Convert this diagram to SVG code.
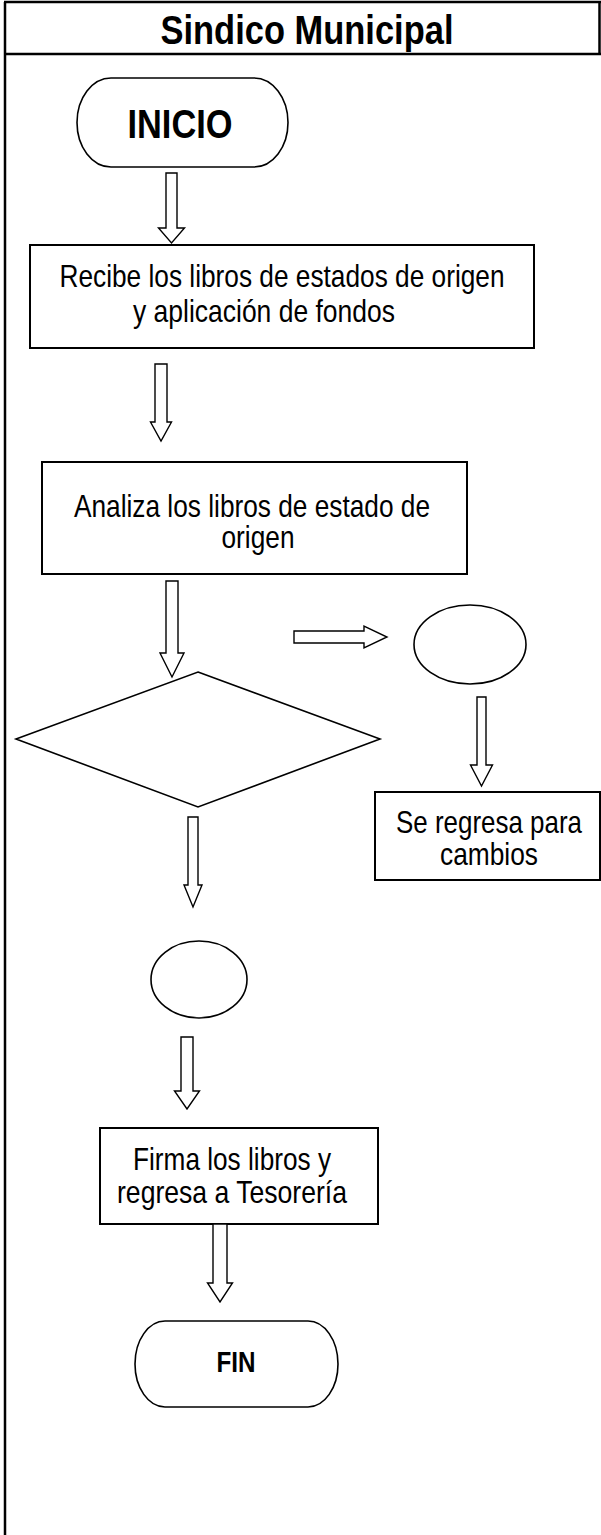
<svg xmlns="http://www.w3.org/2000/svg" width="601" height="1535" viewBox="0 0 601 1535">
<style>
.frame{fill:none;stroke:#000;stroke-width:2.5}
.box{fill:#fff;stroke:#000;stroke-width:2}
.shape{fill:#fff;stroke:#000;stroke-width:1.6}
.arrow{fill:#fff;stroke:#000;stroke-width:1.4;stroke-linejoin:miter}
text{font-family:"Liberation Sans Narrow","Liberation Sans",Arial,sans-serif;fill:#000;text-anchor:middle}
.t{font-size:32px}
.b{font-weight:bold}
</style>
<rect width="601" height="1535" fill="#fff"/>
<g id="frame">
<line class="frame" x1="5" y1="2" x2="5" y2="1535"/>
<line class="frame" x1="4" y1="2" x2="601" y2="2"/>
<line class="frame" x1="5" y1="54" x2="601" y2="54"/>
<line class="frame" x1="599.5" y1="2" x2="599.5" y2="54"/>
<text class="b" x="307" y="44" font-size="40" textLength="293" lengthAdjust="spacingAndGlyphs">Sindico Municipal</text>
</g>
<g id="inicio">
<rect class="shape" x="77" y="78" width="211" height="89" rx="34" ry="44.5"/>
<text class="b" x="180" y="138" font-size="40" textLength="105" lengthAdjust="spacingAndGlyphs">INICIO</text>
</g>
<g id="recibe">
<rect class="box" x="30" y="245" width="504" height="103"/>
<text class="t"><tspan x="282" y="287" textLength="445" lengthAdjust="spacingAndGlyphs">Recibe los libros de estados de origen</tspan><tspan x="264" y="322" textLength="262" lengthAdjust="spacingAndGlyphs">y aplicación de fondos</tspan></text>
</g>
<g id="analiza">
<rect class="box" x="42" y="462" width="425" height="112"/>
<text class="t"><tspan x="252" y="517" textLength="356" lengthAdjust="spacingAndGlyphs">Analiza los libros de estado de</tspan><tspan x="258" y="548" textLength="73" lengthAdjust="spacingAndGlyphs">origen</tspan></text>
</g>
<g id="decision">
<polygon class="shape" points="198,672 380,739 198,807 16,739"/>
</g>
<g id="conector1">
<ellipse class="shape" cx="470" cy="644.5" rx="56" ry="39.5"/>
</g>
<g id="regresa">
<rect class="box" x="375" y="792" width="225" height="88"/>
<text class="t"><tspan x="489" y="833" textLength="186" lengthAdjust="spacingAndGlyphs">Se regresa para</tspan><tspan x="489" y="865" textLength="98" lengthAdjust="spacingAndGlyphs">cambios</tspan></text>
</g>
<g id="conector2">
<ellipse class="shape" cx="199" cy="979.5" rx="48" ry="38.5"/>
</g>
<g id="firma">
<rect class="box" x="100" y="1128" width="278" height="96"/>
<text class="t"><tspan x="232" y="1170" textLength="198" lengthAdjust="spacingAndGlyphs">Firma los libros y</tspan><tspan x="232" y="1203" textLength="230" lengthAdjust="spacingAndGlyphs">regresa a Tesorería</tspan></text>
</g>
<g id="fin">
<rect class="shape" x="135" y="1321" width="203" height="86" rx="30" ry="43"/>
<text class="b" x="236" y="1372" font-size="29" textLength="39" lengthAdjust="spacingAndGlyphs">FIN</text>
</g>
<g id="connectors">
<polygon class="arrow" points="166,173 177,173 177,228 184.5,228 171.5,243 158.5,228 166,228"/>
<polygon class="arrow" points="155,364 167,364 167,422 171.5,422 161,441 150.5,422 155,422"/>
<polygon class="arrow" points="166,581 178,581 178,653 184,653 172,677 160,653 166,653"/>
<polygon class="arrow" points="294,631 364,631 364,626 387,637 364,648 364,643 294,643"/>
<polygon class="arrow" points="477,697 486,697 486,765 492.5,765 481.5,786 470.5,765 477,765"/>
<polygon class="arrow" points="188,817 198,817 198,885 202,885 193,907 184,885 188,885"/>
<polygon class="arrow" points="181,1037 193,1037 193,1091 199.5,1091 187,1109 174.5,1091 181,1091"/>
<polygon class="arrow" points="213,1224 227,1224 227,1283 232.5,1283 220,1302 207.5,1283 213,1283"/>
</g>
</svg>
